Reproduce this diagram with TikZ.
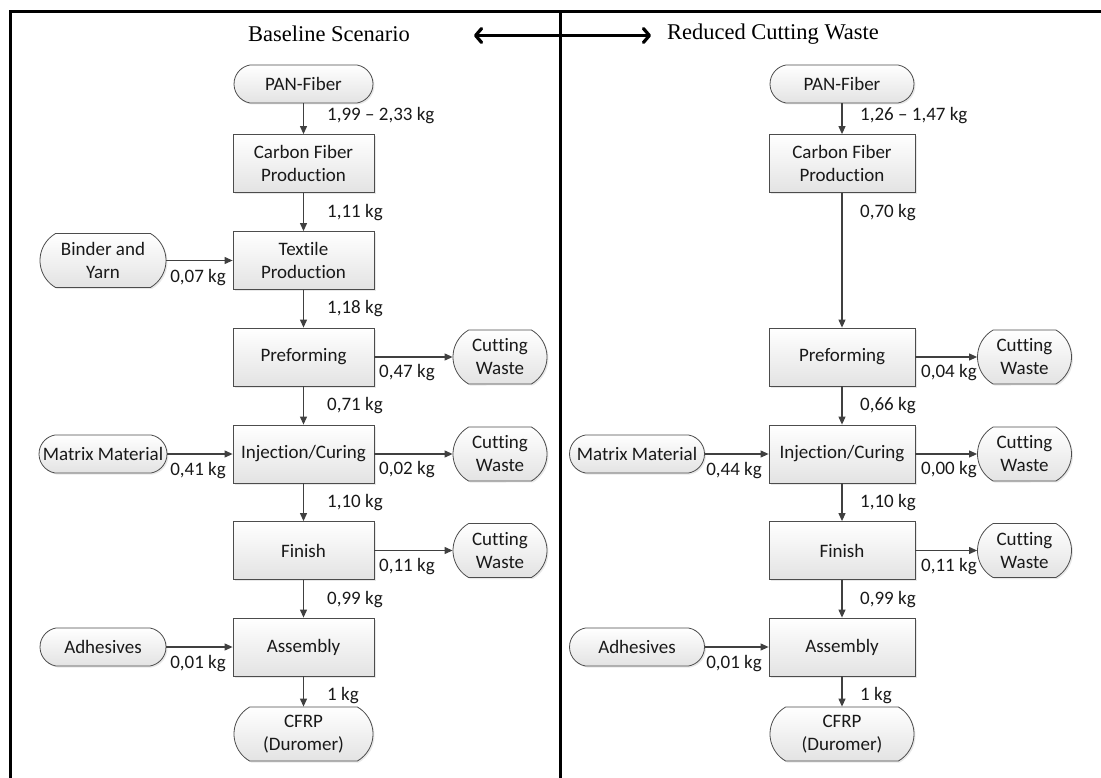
\documentclass[tikz,border=0pt]{standalone}
\usepackage{fontspec}
\setmainfont{Carlito}[Ligatures={NoCommon}]
\newfontfamily\titlefont{Liberation Serif}
\usetikzlibrary{arrows.meta,shadows,shapes.misc}
\begin{document}
\begin{tikzpicture}[x=1pt,y=-1pt,
  every node/.style={font=\fontsize{19}{23}\selectfont, text=black!90},
  boxbase/.style={draw=black!70, line width=0.8pt, top color=white, bottom color=black!11,
    inner sep=1pt, align=center,
    drop shadow={shadow xshift=1.5pt, shadow yshift=-1.5pt, opacity=0.18}},
  proc/.style={boxbase, minimum height=58pt},
  term/.style={boxbase, rounded rectangle, rounded rectangle arc length=160, minimum height=38pt},
  termtall/.style={boxbase, rounded rectangle, rounded rectangle arc length=120, minimum height=54pt},
  flow/.style={draw=black!75, line width=1.1pt, -{Triangle[length=8pt,width=7pt]}},
  lab/.style={inner sep=0pt},
  frameline/.style={line width=3pt, black},
  titletext/.style={font=\titlefont\fontsize{22.5}{26}\selectfont, text=black},
  bigarrow/.style={line width=3.2pt, black, {Straight Barb[length=6pt,width=14pt,round]}-{Straight Barb[length=6pt,width=14pt,round]}}
]
\useasboundingbox (0,0) rectangle (1101,778);
% frame
\draw[frameline] (10,778) -- (10,12) -- (1101,12);
\draw[frameline] (560.5,12) -- (560.5,778);

% titles
\node[titletext] (t1) at (329,34) {Baseline Scenario};
\node[titletext] (t2) at (773,34) {Reduced Cutting Waste};
\coordinate (aL) at (474,35.5);
\coordinate (aR) at (651,35.5);
\draw[bigarrow] (aL) -- (aR);

% ---------- left column ----------
\node[term, minimum width=141pt] (panL) at (303.5,84) {PAN-Fiber};
\node[proc, minimum width=141pt] (cfL) at (303.5,163.5) {Carbon Fiber\\Production};
\node[proc, minimum width=141pt] (texL) at (303.5,260.5) {Textile\\Production};
\node[proc, minimum width=141pt] (preL) at (303.5,357) {Preforming};
\node[proc, minimum width=141pt] (injL) at (303.5,454) {Injection/Curing};
\node[proc, minimum width=141pt] (finL) at (303.5,550.5) {Finish};
\node[proc, minimum width=141pt] (asmL) at (303.5,647) {Assembly};
\node[termtall, minimum width=141pt] (cfrpL) at (303.5,734) {CFRP\\(Duromer)};

\node[termtall, minimum width=128pt] (binL) at (103,260.5) {Binder and\\Yarn};
\node[term, minimum width=128pt, inner xsep=0pt] (matL) at (103,454) {Matrix Material};
\node[term, minimum width=128pt] (adhL) at (103,647) {Adhesives};

\node[termtall, minimum width=96pt] (w1L) at (500,357) {Cutting\\Waste};
\node[termtall, minimum width=96pt] (w2L) at (500,454) {Cutting\\Waste};
\node[termtall, minimum width=96pt] (w3L) at (500,550.5) {Cutting\\Waste};

\draw[flow] (panL.south) -- (cfL.north);
\draw[flow] (cfL.south) -- (texL.north);
\draw[flow] (texL.south) -- (preL.north);
\draw[flow] (preL.south) -- (injL.north);
\draw[flow] (injL.south) -- (finL.north);
\draw[flow] (finL.south) -- (asmL.north);
\draw[flow] (asmL.south) -- (cfrpL.north);
\draw[flow] (binL.east) -- (texL.west);
\draw[flow] (matL.east) -- (injL.west);
\draw[flow] (adhL.east) -- (asmL.west);
\draw[flow] (preL.east) -- (w1L.west);
\draw[flow] (injL.east) -- (w2L.west);
\draw[flow] (finL.east) -- (w3L.west);

\node[lab, anchor=west] (l1) at (327,116) {1,99 – 2,33 kg};
\node[lab, anchor=west] (l2) at (327,213) {1,11 kg};
\node[lab, anchor=west] (l3) at (327,309) {1,18 kg};
\node[lab, anchor=west] (l4) at (327,406) {0,71 kg};
\node[lab, anchor=west] (l5) at (327,503) {1,10 kg};
\node[lab, anchor=west] (l6) at (327,600) {0,99 kg};
\node[lab, anchor=west] (l7) at (327,696) {1 kg};
\node[lab, anchor=east] (l8) at (226,278) {0,07 kg};
\node[lab, anchor=east] (l9) at (226,471) {0,41 kg};
\node[lab, anchor=east] (l10) at (226,664) {0,01 kg};
\node[lab, anchor=west] (l11) at (379,373) {0,47 kg};
\node[lab, anchor=west] (l12) at (379,470) {0,02 kg};
\node[lab, anchor=west] (l13) at (379,567) {0,11 kg};

% ---------- right column ----------
\node[term, minimum width=146pt] (panR) at (842,84) {PAN-Fiber};
\node[proc, minimum width=146pt] (cfR) at (842,163.5) {Carbon Fiber\\Production};
\node[proc, minimum width=146pt] (preR) at (842,357) {Preforming};
\node[proc, minimum width=146pt] (injR) at (842,454) {Injection/Curing};
\node[proc, minimum width=146pt] (finR) at (842,550.5) {Finish};
\node[proc, minimum width=146pt] (asmR) at (842,647) {Assembly};
\node[termtall, minimum width=146pt] (cfrpR) at (842,734) {CFRP\\(Duromer)};

\node[term, minimum width=137pt] (matR) at (637,454) {Matrix Material};
\node[term, minimum width=137pt] (adhR) at (637,647) {Adhesives};

\node[termtall, minimum width=96pt] (w1R) at (1024.5,357) {Cutting\\Waste};
\node[termtall, minimum width=96pt] (w2R) at (1024.5,454) {Cutting\\Waste};
\node[termtall, minimum width=96pt] (w3R) at (1024.5,550.5) {Cutting\\Waste};

\draw[flow] (panR.south) -- (cfR.north);
\draw[flow] (cfR.south) -- (preR.north);
\draw[flow] (preR.south) -- (injR.north);
\draw[flow] (injR.south) -- (finR.north);
\draw[flow] (finR.south) -- (asmR.north);
\draw[flow] (asmR.south) -- (cfrpR.north);
\draw[flow] (matR.east) -- (injR.west);
\draw[flow] (adhR.east) -- (asmR.west);
\draw[flow] (preR.east) -- (w1R.west);
\draw[flow] (injR.east) -- (w2R.west);
\draw[flow] (finR.east) -- (w3R.west);

\node[lab, anchor=west] (r1) at (860,116) {1,26 – 1,47 kg};
\node[lab, anchor=west] (r2) at (860,213) {0,70 kg};
\node[lab, anchor=west] (r4) at (860,406) {0,66 kg};
\node[lab, anchor=west] (r5) at (860,503) {1,10 kg};
\node[lab, anchor=west] (r6) at (860,600) {0,99 kg};
\node[lab, anchor=west] (r7) at (860,696) {1 kg};
\node[lab, anchor=east] (r9) at (762,471) {0,44 kg};
\node[lab, anchor=east] (r10) at (762,664) {0,01 kg};
\node[lab, anchor=west] (r11) at (921,373) {0,04 kg};
\node[lab, anchor=west] (r12) at (921,470) {0,00 kg};
\node[lab, anchor=west] (r13) at (921,567) {0,11 kg};
\end{tikzpicture}
\end{document}
